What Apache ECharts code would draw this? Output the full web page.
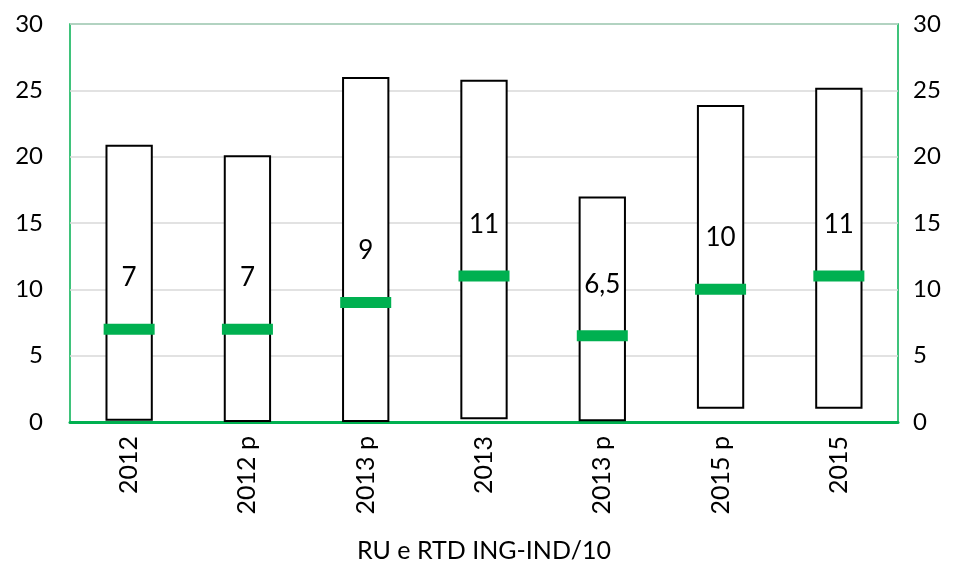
<!DOCTYPE html>
<html><head><meta charset="utf-8">
<script src="https://cdn.jsdelivr.net/npm/echarts@6/dist/echarts.min.js"></script>
<style>html,body{margin:0;padding:0;background:#fff}#c{width:958px;height:563px}</style>
</head><body><div id="c"></div>
<script>
const categories = ['2012','2012 p','2013 p','2013','2013 p','2015 p','2015'];
const minValues = [0.1, 0, 0, 0.2, 0.05, 1, 1];
const maxValues = [20.9, 20.1, 26, 25.8, 17, 23.9, 25.2];
const medianValues = [7, 7, 9, 11, 6.5, 10, 11];
const medianLabels = ['7','7','9','11','6,5','10','11'];
const yTicks = [0,5,10,15,20,25,30];
const axisTitle = 'RU e RTD ING-IND/10';

const FONT = 'Lato, "Open Sans", sans-serif';
const chart = echarts.init(document.getElementById('c'));
const yAx = (pos, margin) => ({
  type:'value', position:pos, min:yTicks[0], max:yTicks[yTicks.length-1], interval:5,
  axisLine:{show:false}, axisTick:{show:false},
  splitLine:{show:pos==='left', lineStyle:{color:'#d9d9d9', width:1.5}},
  axisLabel:{color:'#000', fontSize:24, fontFamily:FONT, margin:margin}
});
chart.setOption({
  animation:false,
  grid:{left:70, right:60, top:24, bottom:141, show:true, borderColor:'#00b050', borderWidth:1.5,
    containLabel:false, outerBoundsMode:'none'},
  xAxis:{type:'category', data:categories,
    axisLine:{lineStyle:{color:'#00b050', width:3}}, axisTick:{show:false},
    axisLabel:{rotate:90, color:'#000', fontSize:25, fontFamily:FONT, margin:14},
    name:axisTitle, nameLocation:'middle', nameGap:116,
    nameTextStyle:{color:'#000', fontSize:25, fontFamily:FONT}},
  yAxis:[yAx('left',27), yAx('right',15)],
  series:[
    {type:'bar', stack:'r', data:minValues, barWidth:'40%', itemStyle:{color:'transparent'}, silent:true},
    {type:'bar', stack:'r', data:maxValues.map((v,i)=>+(v-minValues[i]).toFixed(3)), barWidth:'40%',
      itemStyle:{color:'#fff', borderColor:'#000', borderWidth:2}},
    {type:'scatter', data:medianValues, symbol:'rect', symbolSize:[51,11], z:5,
      itemStyle:{color:'#00b050', opacity:1},
      label:{show:true, position:'top', distance:33, color:'#000', fontSize:26, fontFamily:FONT,
        formatter:p=>medianLabels[p.dataIndex]}}
  ]
});
</script></body></html>
